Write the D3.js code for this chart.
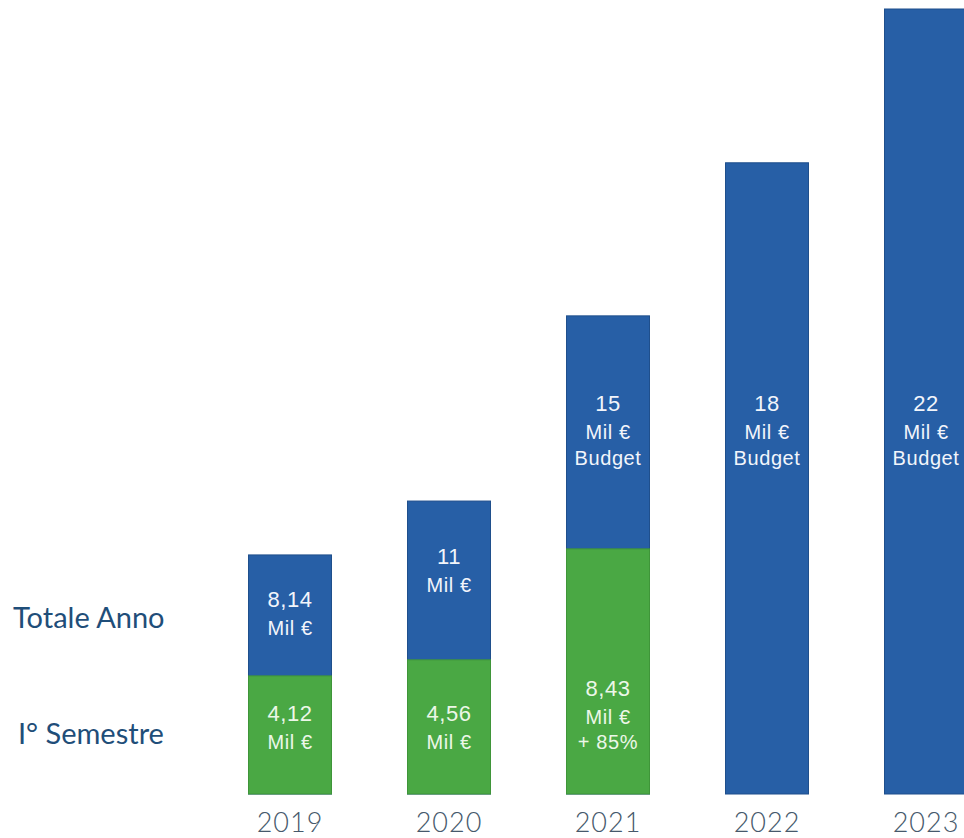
<!DOCTYPE html>
<meta charset="utf-8">
<style>
  html, body { margin: 0; padding: 0; background: #fff; }
  svg { display: block; }
</style>
<body>
  <div id="content"></div>

  <script src="https://cdnjs.cloudflare.com/ajax/libs/d3/7.8.5/d3.min.js"></script>

  <script>

    var width = 964,
      height = 838;

    // categories
    var years = ['2019', '2020', '2021', '2022', '2023']

    // values printed on the bars (Mil €)
    var totalValues = ['8,14', '11', '15', '18', '22']
    var semValues = ['4,12', '4,56', '8,43', null, null]
    var semNotes = [null, null, '+ 85%', null, null]
    var budget = [false, false, true, true, true]

    // bar levels as drawn in the picture (the picture is not to scale)
    var totalLevel = [6.70, 8.21, 13.40, 17.69, 22.0]
    var semLevel = [3.31, 3.76, 6.87, 0, 0]

    // row labels on the left
    var rowLabels = ['Totale Anno', 'I° Semestre']

    var blue = '#275fa6', green = '#4aa844'

    var svg = d3.select('#content').append('svg')
      .attr('width', width)
      .attr('height', height)

    var x = d3.scalePoint().domain(years).range([290, 926])
    var y = d3.scaleLinear().domain([0, 22]).range([794, 9])
    var barW = 83

    var rows = years.map(function (d, i) {
      return {
        year: d,
        total: totalLevel[i],
        sem: semLevel[i],
        totalText: totalValues[i],
        semText: semValues[i],
        note: semNotes[i],
        budget: budget[i]
      }
    })

    // blue: full year bar
    svg.selectAll('rect.total')
      .data(rows)
      .join('rect')
      .attr('class', 'total')
      .attr('x', d => x(d.year) - barW / 2)
      .attr('width', barW)
      .attr('y', d => y(d.total))
      .attr('height', d => y(0) - y(d.total))
      .attr('fill', blue)
      .attr('stroke', '#1f4f8c')
      .attr('stroke-width', 1)

    // green: first semester
    svg.selectAll('rect.sem')
      .data(rows.filter(d => d.sem > 0))
      .join('rect')
      .attr('class', 'sem')
      .attr('x', d => x(d.year) - barW / 2)
      .attr('width', barW)
      .attr('y', d => y(d.sem))
      .attr('height', d => y(0) - y(d.sem))
      .attr('fill', green)
      .attr('stroke', '#3f9539')
      .attr('stroke-width', 1)

    var labelFont = 'Liberation Sans, Arial, Helvetica, sans-serif'

    // budget labels sit level with the 2021 one
    var budgetRow = rows.find(d => d.budget)
    var budgetMid = (y(budgetRow.total) + y(budgetRow.sem)) / 2

    rows.forEach(function (d) {
      var lines = [d.totalText, 'Mil €']
      if (d.budget) lines.push('Budget')
      var mid = d.budget ? budgetMid : (y(d.total) + y(d.sem)) / 2 - (d.year == '2020' ? 8 : 0)
      var lh = 26
      var first = mid - (lines.length - 1) * lh / 2 + 7
      lines.forEach(function (t, j) {
        svg.append('text')
          .text(t)
          .attr('x', x(d.year))
          .attr('y', first + j * lh + (j == 0 ? -2 : 0))
          .style('text-anchor', 'middle')
          .style('font-family', labelFont)
          .style('font-size', j == 0 ? '22px' : '20px')
          .style('letter-spacing', '0.6px')
          .attr('fill', '#f2f5fb')
      })

      if (d.semText) {
        var sl = [d.semText, 'Mil €']
        if (d.note) sl.push(d.note)
        var last = 749
        sl.forEach(function (t, j) {
          svg.append('text')
            .text(t)
            .attr('x', x(d.year))
            .attr('y', last - (sl.length - 1 - j) * 25 - (j == 0 ? 3 : 0))
            .style('text-anchor', 'middle')
            .style('font-family', labelFont)
            .style('font-size', j == 0 ? '22px' : '20px')
            .style('letter-spacing', '0.6px')
            .attr('fill', '#ecf7e8')
        })
      }
    })

    // year labels
    svg.selectAll('text.year')
      .data(years)
      .join('text')
      .attr('class', 'year')
      .text(d => d)
      .attr('x', d => x(d))
      .attr('y', 832)
      .style('text-anchor', 'middle')
      .style('font-family', 'Lato, sans-serif')
      .style('font-weight', 300)
      .style('font-size', '27px')
      .style('letter-spacing', '1px')
      .attr('fill', '#46596b')

    // row labels
    svg.selectAll('text.row')
      .data(rowLabels)
      .join('text')
      .attr('class', 'row')
      .text(d => d)
      .attr('x', (d, i) => i == 0 ? 13 : 18)
      .attr('y', (d, i) => i == 0 ? 628 : 744)
      .style('font-family', 'Lato, sans-serif')
      .style('font-size', '29px')
      .attr('fill', '#1f4e79')

  </script>
</body>
